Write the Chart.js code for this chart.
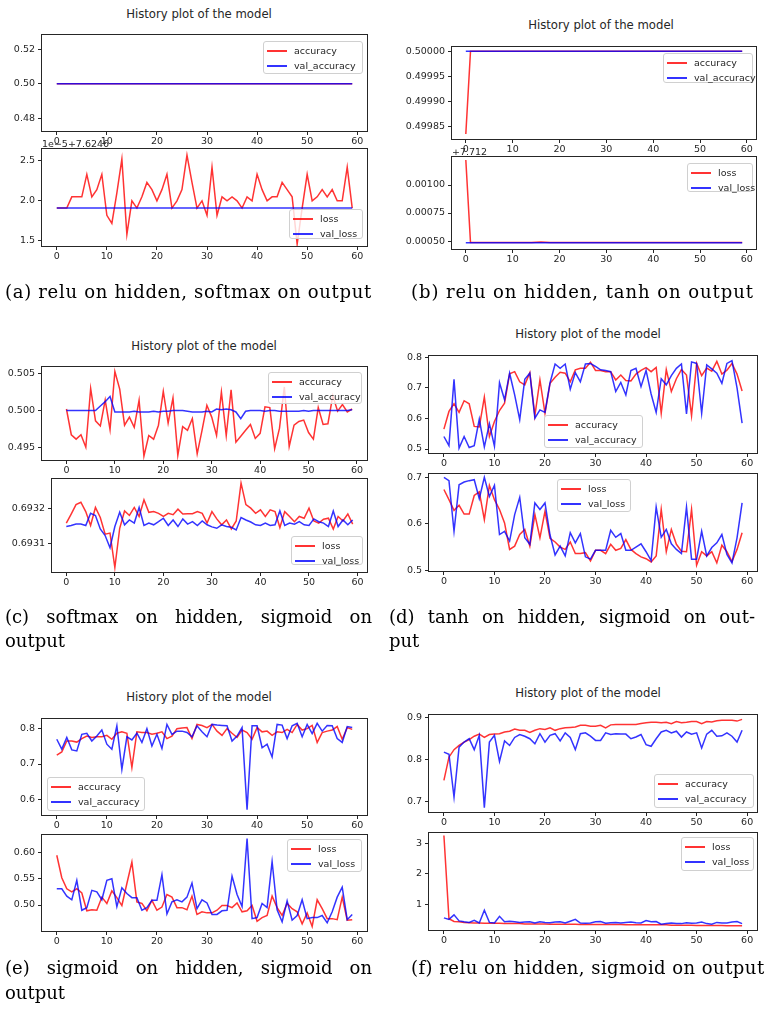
<!DOCTYPE html>
<html>
<head>
<meta charset="utf-8">
<script src="https://cdn.jsdelivr.net/npm/chart.js@4.4.0/dist/chart.umd.min.js"></script>
<style>
  body { margin: 0; background: #fff; width: 767px; height: 1013px; position: relative; overflow: hidden; font-family: "DejaVu Sans", sans-serif; }
  canvas { position: absolute; }
  .title { position: absolute; font-size: 11.7px; color: #262626; transform: translate(-50%, -50%); white-space: nowrap; }
  .off { position: absolute; font-size: 9.5px; color: #262626; white-space: nowrap; transform: translateY(-50%); }
  .leg { position: absolute; box-sizing: border-box; border: 1px solid #d0d0d0; border-radius: 3px; background: rgba(255,255,255,0.8); }
  .leg .row { position: absolute; left: 0; right: 0; height: 14px; font-size: 9.5px; color: #262626; line-height: 14px; white-space: nowrap; }
  .leg .ln { position: absolute; left: 3px; width: 20px; top: 6px; height: 1.6px; }
  .leg .tx { position: absolute; left: 30px; }
  .cap { position: absolute; font-family: "DejaVu Serif", serif; font-size: 18px; line-height: 24px; color: #000; white-space: nowrap; }
  .just { text-align: justify; text-align-last: justify; }
</style>
</head>
<body>
<script>
// epochs shown on every x axis
const xTicks = [0, 10, 20, 30, 40, 50, 60];

// (a) relu on hidden, softmax on output
const accA = [0.5,0.5,0.5,0.5,0.5,0.5,0.5,0.5,0.5,0.5,0.5,0.5,0.5,0.5,0.5,0.5,0.5,0.5,0.5,0.5,0.5,0.5,0.5,0.5,0.5,0.5,0.5,0.5,0.5,0.5,0.5,0.5,0.5,0.5,0.5,0.5,0.5,0.5,0.5,0.5,0.5,0.5,0.5,0.5,0.5,0.5,0.5,0.5,0.5,0.5,0.5,0.5,0.5,0.5,0.5,0.5,0.5,0.5,0.5,0.5];
const valAccA = [0.5,0.5,0.5,0.5,0.5,0.5,0.5,0.5,0.5,0.5,0.5,0.5,0.5,0.5,0.5,0.5,0.5,0.5,0.5,0.5,0.5,0.5,0.5,0.5,0.5,0.5,0.5,0.5,0.5,0.5,0.5,0.5,0.5,0.5,0.5,0.5,0.5,0.5,0.5,0.5,0.5,0.5,0.5,0.5,0.5,0.5,0.5,0.5,0.5,0.5,0.5,0.5,0.5,0.5,0.5,0.5,0.5,0.5,0.5,0.5];
// loss in units of 1e-5 above 7.6246
const lossA = [1.91,1.91,1.91,2.05,2.05,2.05,2.33,2.05,2.14,2.33,1.82,1.72,2.1,2.52,1.58,2.0,1.91,2.05,2.23,2.14,2.0,2.14,2.33,1.91,2.0,2.14,2.57,2.23,1.91,2.0,1.82,2.42,1.82,2.05,2.0,2.05,2.0,1.91,2.05,2.0,2.33,2.14,2.0,2.05,2.05,2.23,2.14,2.05,1.46,1.91,2.33,2.0,2.05,2.14,2.05,2.14,2.0,2.0,2.42,1.91];
const valLossA = [1.91,1.91,1.91,1.91,1.91,1.91,1.91,1.91,1.91,1.91,1.91,1.91,1.91,1.91,1.91,1.91,1.91,1.91,1.91,1.91,1.91,1.91,1.91,1.91,1.91,1.91,1.91,1.91,1.91,1.91,1.91,1.91,1.91,1.91,1.91,1.91,1.91,1.91,1.91,1.91,1.91,1.91,1.91,1.91,1.91,1.91,1.91,1.91,1.91,1.91,1.91,1.91,1.91,1.91,1.91,1.91,1.91,1.91,1.91,1.91];
const accTicksA = [0.48, 0.50, 0.52];
const lossTicksA = [1.5, 2.0, 2.5];

// (b) relu on hidden, tanh on output
const accB = [0.499834,0.5,0.5,0.5,0.5,0.5,0.5,0.5,0.5,0.5,0.5,0.5,0.5,0.5,0.5,0.5,0.5,0.5,0.5,0.5,0.5,0.5,0.5,0.5,0.5,0.5,0.5,0.5,0.5,0.5,0.5,0.5,0.5,0.5,0.5,0.5,0.5,0.5,0.5,0.5,0.5,0.5,0.5,0.5,0.5,0.5,0.5,0.5,0.5,0.5,0.5,0.5,0.5,0.5,0.5,0.5,0.5,0.5,0.5,0.5];
const valAccB = [0.5,0.5,0.5,0.5,0.5,0.5,0.5,0.5,0.5,0.5,0.5,0.5,0.5,0.5,0.5,0.5,0.5,0.5,0.5,0.5,0.5,0.5,0.5,0.5,0.5,0.5,0.5,0.5,0.5,0.5,0.5,0.5,0.5,0.5,0.5,0.5,0.5,0.5,0.5,0.5,0.5,0.5,0.5,0.5,0.5,0.5,0.5,0.5,0.5,0.5,0.5,0.5,0.5,0.5,0.5,0.5,0.5,0.5,0.5,0.5];
// loss above 7.712
const lossB = [0.001223,0.000486,0.000486,0.000486,0.000486,0.000486,0.000486,0.000486,0.000486,0.000487,0.000487,0.000486,0.000486,0.000487,0.000488,0.000490,0.000491,0.000489,0.000487,0.000486,0.000486,0.000486,0.000486,0.000486,0.000486,0.000486,0.000486,0.000486,0.000486,0.000486,0.000486,0.000486,0.000486,0.000486,0.000486,0.000486,0.000486,0.000486,0.000486,0.000486,0.000486,0.000486,0.000486,0.000486,0.000486,0.000487,0.000486,0.000486,0.000486,0.000486,0.000486,0.000486,0.000486,0.000486,0.000486,0.000486,0.000486,0.000486,0.000486,0.000486];
const valLossB = [0.000485,0.000485,0.000485,0.000485,0.000485,0.000485,0.000485,0.000485,0.000485,0.000485,0.000485,0.000485,0.000485,0.000485,0.000485,0.000485,0.000485,0.000485,0.000485,0.000485,0.000485,0.000485,0.000485,0.000485,0.000485,0.000485,0.000485,0.000485,0.000485,0.000485,0.000485,0.000485,0.000485,0.000485,0.000485,0.000485,0.000485,0.000485,0.000485,0.000485,0.000485,0.000485,0.000485,0.000485,0.000485,0.000485,0.000485,0.000485,0.000485,0.000485,0.000485,0.000485,0.000485,0.000485,0.000485,0.000485,0.000485,0.000485,0.000485,0.000485];
const accTicksB = [0.49985, 0.49990, 0.49995, 0.50000];
const lossTicksB = [0.00050, 0.00075, 0.00100];

// (c) softmax on hidden, sigmoid on output
const accC = [0.5002,0.4967,0.4961,0.4967,0.4950,0.5030,0.4986,0.4979,0.5014,0.4974,0.5053,0.5029,0.4980,0.4991,0.4977,0.5014,0.4938,0.4966,0.4961,0.4980,0.5026,0.4983,0.5017,0.4939,0.4978,0.4973,0.4989,0.4941,0.4973,0.5007,0.4991,0.4966,0.5025,0.4966,0.5028,0.4957,0.4965,0.4973,0.4981,0.4962,0.4969,0.5005,0.5004,0.4948,0.4976,0.5032,0.4951,0.4980,0.4985,0.4987,0.4970,0.4961,0.5004,0.4981,0.4982,0.5020,0.4999,0.5008,0.4998,0.5002];
const valAccC = [0.5,0.5,0.5,0.5,0.5,0.5,0.5,0.5006,0.5012,0.5019,0.4998,0.4998,0.4998,0.4998,0.4999,0.4998,0.4998,0.4998,0.4999,0.4998,0.4999,0.4999,0.5,0.5,0.5,0.4999,0.4998,0.4998,0.4998,0.4999,0.4998,0.5002,0.5001,0.5002,0.5001,0.4998,0.4989,0.4999,0.5,0.5,0.5,0.4999,0.5,0.5,0.4999,0.4999,0.4999,0.4999,0.4999,0.5,0.4999,0.5,0.5,0.5,0.5,0.5,0.5,0.5,0.5,0.5001];
const lossC = [0.693159,0.693185,0.693212,0.693219,0.693192,0.693152,0.693204,0.693175,0.693127,0.69313,0.693031,0.693144,0.693194,0.693181,0.693204,0.693178,0.693226,0.69319,0.693192,0.693187,0.693178,0.693187,0.693183,0.693199,0.693185,0.693186,0.693186,0.693192,0.693187,0.693159,0.693192,0.693171,0.693154,0.693168,0.693142,0.693165,0.693274,0.693212,0.693202,0.693187,0.693197,0.693178,0.693197,0.693192,0.693146,0.693192,0.693178,0.693163,0.693178,0.693173,0.693202,0.693165,0.693159,0.69317,0.693173,0.693142,0.693178,0.693165,0.693185,0.693156];
const valLossC = [0.693149,0.693152,0.693156,0.693156,0.693152,0.693187,0.693181,0.693142,0.693123,0.693088,0.693149,0.69319,0.693154,0.693168,0.693159,0.693204,0.693152,0.693159,0.693154,0.693163,0.693173,0.693152,0.693168,0.693149,0.693171,0.693156,0.693163,0.693152,0.693165,0.693154,0.693148,0.693144,0.693154,0.693149,0.693147,0.693139,0.693175,0.693168,0.693162,0.693154,0.693152,0.693159,0.693152,0.693154,0.693194,0.693152,0.693159,0.693156,0.693163,0.693154,0.693152,0.693171,0.693163,0.693159,0.693149,0.693194,0.693149,0.693168,0.693154,0.693168];
const accTicksC = [0.495, 0.500, 0.505];
const lossTicksC = [0.6931, 0.6932];

// (d) tanh on hidden, sigmoid on output
const accD = [0.565,0.623,0.648,0.62,0.658,0.648,0.574,0.572,0.67,0.541,0.59,0.626,0.65,0.746,0.753,0.72,0.71,0.75,0.609,0.726,0.617,0.715,0.735,0.751,0.748,0.72,0.759,0.764,0.764,0.784,0.757,0.757,0.753,0.753,0.726,0.742,0.724,0.723,0.745,0.757,0.766,0.753,0.767,0.617,0.76,0.688,0.73,0.76,0.742,0.609,0.78,0.74,0.765,0.755,0.787,0.745,0.758,0.78,0.745,0.69];
const valAccD = [0.541,0.511,0.728,0.503,0.541,0.505,0.511,0.598,0.507,0.583,0.509,0.717,0.661,0.748,0.677,0.596,0.728,0.748,0.601,0.628,0.62,0.717,0.778,0.764,0.778,0.696,0.75,0.72,0.778,0.78,0.77,0.759,0.757,0.753,0.688,0.718,0.677,0.757,0.764,0.704,0.757,0.68,0.62,0.73,0.71,0.74,0.764,0.778,0.615,0.785,0.78,0.617,0.775,0.762,0.748,0.715,0.78,0.789,0.70,0.585];
const lossD = [0.674,0.652,0.629,0.64,0.621,0.621,0.661,0.669,0.609,0.683,0.652,0.631,0.602,0.545,0.552,0.577,0.588,0.552,0.62,0.57,0.627,0.569,0.561,0.55,0.545,0.561,0.536,0.536,0.538,0.52,0.543,0.543,0.536,0.556,0.543,0.547,0.566,0.545,0.536,0.529,0.525,0.518,0.531,0.631,0.54,0.588,0.556,0.541,0.54,0.631,0.511,0.54,0.531,0.54,0.516,0.554,0.54,0.519,0.545,0.581];
const valLossD = [0.7,0.693,0.584,0.684,0.69,0.693,0.695,0.654,0.7,0.659,0.683,0.577,0.584,0.563,0.62,0.657,0.57,0.556,0.645,0.631,0.645,0.576,0.533,0.552,0.531,0.581,0.559,0.579,0.529,0.524,0.543,0.543,0.543,0.586,0.571,0.579,0.543,0.543,0.55,0.557,0.54,0.521,0.636,0.571,0.588,0.557,0.545,0.536,0.636,0.524,0.524,0.584,0.531,0.549,0.559,0.577,0.534,0.516,0.57,0.645];
const accTicksD = [0.5, 0.6, 0.7, 0.8];
const lossTicksD = [0.5, 0.6, 0.7];

// (e) sigmoid on hidden, sigmoid on output
const accE = [0.725,0.734,0.765,0.765,0.762,0.772,0.779,0.775,0.777,0.777,0.781,0.77,0.787,0.791,0.787,0.69,0.791,0.789,0.789,0.784,0.787,0.791,0.772,0.779,0.8,0.802,0.803,0.772,0.812,0.809,0.803,0.812,0.793,0.781,0.8,0.787,0.775,0.796,0.789,0.77,0.803,0.791,0.793,0.781,0.791,0.789,0.798,0.789,0.812,0.796,0.8,0.809,0.761,0.789,0.793,0.796,0.806,0.77,0.803,0.798];
const valAccE = [0.77,0.742,0.775,0.74,0.737,0.784,0.787,0.765,0.779,0.796,0.756,0.742,0.808,0.685,0.777,0.768,0.787,0.761,0.8,0.751,0.784,0.744,0.812,0.784,0.793,0.793,0.789,0.777,0.808,0.791,0.777,0.812,0.81,0.809,0.808,0.765,0.779,0.803,0.571,0.808,0.808,0.746,0.756,0.72,0.812,0.81,0.772,0.808,0.815,0.777,0.812,0.786,0.815,0.793,0.809,0.808,0.772,0.761,0.806,0.803];
const lossE = [0.595,0.552,0.531,0.525,0.531,0.523,0.489,0.491,0.49,0.515,0.503,0.527,0.514,0.499,0.541,0.582,0.506,0.503,0.489,0.509,0.49,0.496,0.52,0.515,0.495,0.495,0.491,0.517,0.482,0.487,0.485,0.485,0.49,0.499,0.499,0.495,0.504,0.487,0.489,0.499,0.469,0.476,0.48,0.517,0.495,0.48,0.503,0.493,0.487,0.464,0.485,0.459,0.51,0.493,0.474,0.474,0.472,0.515,0.471,0.472];
const valLossE = [0.531,0.531,0.517,0.51,0.547,0.49,0.495,0.528,0.525,0.51,0.547,0.55,0.497,0.533,0.522,0.514,0.514,0.49,0.495,0.509,0.509,0.558,0.483,0.506,0.51,0.506,0.515,0.542,0.493,0.51,0.504,0.482,0.482,0.489,0.49,0.555,0.52,0.497,0.627,0.474,0.476,0.503,0.495,0.583,0.491,0.468,0.508,0.471,0.48,0.51,0.474,0.476,0.476,0.48,0.466,0.487,0.515,0.534,0.472,0.482];
const accTicksE = [0.6, 0.7, 0.8];
const lossTicksE = [0.50, 0.55, 0.60];

// (f) relu on hidden, sigmoid on output
const accF = [0.75,0.805,0.823,0.833,0.841,0.847,0.855,0.86,0.852,0.859,0.86,0.861,0.865,0.867,0.872,0.869,0.869,0.864,0.869,0.873,0.871,0.875,0.869,0.873,0.875,0.876,0.877,0.881,0.881,0.879,0.879,0.881,0.875,0.882,0.883,0.883,0.883,0.883,0.883,0.885,0.887,0.888,0.888,0.887,0.888,0.885,0.89,0.887,0.888,0.89,0.89,0.885,0.89,0.889,0.892,0.893,0.893,0.893,0.891,0.895];
const valAccF = [0.817,0.812,0.71,0.829,0.841,0.849,0.823,0.857,0.685,0.841,0.857,0.795,0.844,0.833,0.852,0.859,0.855,0.849,0.837,0.861,0.841,0.857,0.861,0.844,0.863,0.852,0.823,0.861,0.863,0.855,0.845,0.845,0.863,0.859,0.861,0.86,0.86,0.849,0.853,0.859,0.835,0.831,0.849,0.865,0.869,0.863,0.867,0.853,0.865,0.86,0.863,0.827,0.86,0.869,0.855,0.856,0.863,0.855,0.841,0.869];
const lossF = [3.27,0.52,0.43,0.42,0.4,0.39,0.38,0.38,0.37,0.37,0.37,0.37,0.36,0.36,0.36,0.36,0.35,0.35,0.35,0.35,0.35,0.34,0.34,0.34,0.34,0.34,0.34,0.33,0.33,0.33,0.33,0.33,0.33,0.33,0.33,0.33,0.32,0.32,0.32,0.32,0.32,0.32,0.32,0.32,0.32,0.31,0.31,0.31,0.31,0.31,0.3,0.3,0.3,0.3,0.3,0.3,0.29,0.29,0.29,0.29];
const valLossF = [0.55,0.5,0.65,0.45,0.42,0.4,0.47,0.38,0.8,0.4,0.38,0.6,0.42,0.44,0.42,0.4,0.41,0.42,0.38,0.42,0.4,0.39,0.41,0.42,0.38,0.44,0.5,0.38,0.37,0.38,0.42,0.43,0.37,0.39,0.4,0.38,0.4,0.41,0.39,0.38,0.46,0.42,0.43,0.34,0.36,0.38,0.36,0.36,0.39,0.37,0.38,0.41,0.36,0.34,0.4,0.38,0.38,0.41,0.43,0.36];
const accTicksF = [0.7, 0.8, 0.9];
const lossTicksF = [1, 2, 3];

const RED = 'rgba(255,0,0,0.8)';
const BLUE = 'rgba(0,0,255,0.8)';
const INK = '#262626';
const Y_W = 56, X_H = 20, PAD_L = 4, PAD_T = 10, PAD_R = 12, PAD_B = 2;

// full box around the axes, like matplotlib spines
const frame = {
  id: 'frame',
  afterDraw(chart) {
    const { ctx, chartArea: a } = chart;
    ctx.save();
    ctx.strokeStyle = INK;
    ctx.lineWidth = 1;
    ctx.strokeRect(a.left - 0.5, a.top - 0.5, a.right - a.left + 1, a.bottom - a.top + 1);
    ctx.restore();
  }
};

function addDiv(cls, x, y, html) {
  const d = document.createElement('div');
  d.className = cls;
  d.style.left = x + 'px';
  d.style.top = y + 'px';
  d.innerHTML = html;
  document.body.appendChild(d);
  return d;
}

function legend(x0, y0, x1, y1, labels) {
  const d = addDiv('leg', x0, y0, '');
  d.style.width = (x1 - x0) + 'px';
  d.style.height = (y1 - y0) + 'px';
  labels.forEach((lab, i) => {
    const r = document.createElement('div');
    r.className = 'row';
    r.style.top = (2 + i * 15) + 'px';
    r.innerHTML = '<div class="ln" style="background:' + (i === 0 ? RED : BLUE) + '"></div><span class="tx">' + lab + '</span>';
    d.appendChild(r);
  });
}

// box = [left, top, right, bottom] of the axes in page pixels
function plot(box, yMin, yMax, yTicks, digits, red, blue, xMin, xMax) {
  const w = box[2] - box[0], h = box[3] - box[1];
  const cv = document.createElement('canvas');
  cv.width = w + PAD_L + Y_W + PAD_R;
  cv.height = h + PAD_T + X_H + PAD_B;
  cv.style.left = (box[0] - PAD_L - Y_W) + 'px';
  cv.style.top = (box[1] - PAD_T) + 'px';
  document.body.appendChild(cv);

  const toPts = arr => arr.map((v, i) => ({ x: i, y: v }));
  const tickFont = { family: 'DejaVu Sans', size: 9.5 };

  return new Chart(cv, {
    type: 'line',
    data: {
      datasets: [
        { data: toPts(red), borderColor: RED, borderWidth: 1.5, pointRadius: 0, tension: 0, order: 1 },
        { data: toPts(blue), borderColor: BLUE, borderWidth: 1.5, pointRadius: 0, tension: 0, order: 0 }
      ]
    },
    options: {
      responsive: false,
      animation: false,
      devicePixelRatio: 1,
      layout: { padding: { left: PAD_L, top: PAD_T, right: PAD_R, bottom: PAD_B } },
      plugins: { legend: { display: false }, tooltip: { enabled: false } },
      scales: {
        x: {
          type: 'linear',
          min: xMin === undefined ? -2.95 : xMin,
          max: xMax === undefined ? 61.95 : xMax,
          afterBuildTicks: s => { s.ticks = xTicks.map(v => ({ value: v })); },
          afterFit: s => { s.height = X_H; },
          grid: { drawOnChartArea: false, drawTicks: true, tickLength: 4, color: INK },
          border: { display: false },
          ticks: { font: tickFont, color: INK, padding: 1, autoSkip: false, maxRotation: 0, callback: v => String(v) }
        },
        y: {
          type: 'linear',
          min: yMin,
          max: yMax,
          afterBuildTicks: s => { s.ticks = yTicks.map(v => ({ value: v })); },
          afterFit: s => { s.width = Y_W; },
          grid: { drawOnChartArea: false, drawTicks: true, tickLength: 4, color: INK },
          border: { display: false },
          ticks: { font: tickFont, color: INK, padding: 3, autoSkip: false, callback: v => Number(v).toFixed(digits) }
        }
      }
    },
    plugins: [frame]
  });
}

// (a)
addDiv('title', 199, 14, 'History plot of the model');
plot([42, 35, 367, 131], 0.4725, 0.5283, accTicksA, 2, accA, valAccA);
plot([42, 149, 367, 246], 1.4375, 2.646, lossTicksA, 1, lossA, valLossA);
addDiv('off', 42, 143, '1e\u22125+7.6246');
legend(263, 41, 363, 74, ['accuracy', 'val_accuracy']);
legend(289, 209, 363, 239, ['loss', 'val_loss']);

// (b)
addDiv('title', 601, 25, 'History plot of the model');
plot([452, 47, 756, 139], 0.499824, 0.5000086, accTicksB, 5, accB, valAccB);
plot([452, 157, 756, 249], 0.000429, 0.00125, lossTicksB, 5, lossB, valLossB);
addDiv('off', 452, 151, '+7.712');
legend(663, 53, 753, 83, ['accuracy', 'val_accuracy']);
legend(687, 163, 753, 192, ['loss', 'val_loss']);

// (c)
addDiv('title', 204, 346, 'History plot of the model');
plot([42, 367, 367, 460], 0.49327, 0.50591, accTicksC, 3, accC, valAccC, -5.05, 62.07);
plot([52, 479, 367, 572], 0.693018, 0.693286, lossTicksC, 4, lossC, valLossC);
legend(268, 372, 362, 404, ['accuracy', 'val_accuracy']);
legend(291, 536, 363, 565, ['loss', 'val_loss']);

// (d)
addDiv('title', 588, 334, 'History plot of the model');
plot([429, 356, 757, 453], 0.487, 0.8043, accTicksD, 1, accD, valAccD);
plot([429, 474, 757, 571], 0.4985, 0.7073, lossTicksD, 1, lossD, valLossD);
legend(544, 415, 643, 448, ['accuracy', 'val_accuracy']);
legend(557, 479, 631, 512, ['loss', 'val_loss']);

// (e)
addDiv('title', 199, 697, 'History plot of the model');
plot([42, 719, 367, 815], 0.5558, 0.8273, accTicksE, 1, accE, valAccE);
plot([42, 835, 367, 931], 0.4504, 0.6336, lossTicksE, 2, lossE, valLossE);
legend(47, 777, 145, 811, ['accuracy', 'val_accuracy']);
legend(287, 839, 362, 872, ['loss', 'val_loss']);

// (f)
addDiv('title', 588, 693, 'History plot of the model');
plot([429, 715, 757, 812], 0.6745, 0.9055, accTicksF, 1, accF, valAccF);
plot([429, 833, 757, 930], 0.149, 3.354, lossTicksF, 0, lossF, valLossF);
legend(654, 774, 754, 808, ['accuracy', 'val_accuracy']);
legend(681, 837, 754, 871, ['loss', 'val_loss']);

// captions; single lines are stretched to the width they take in the reference
function cap(x, y, w, text, justify) {
  const d = addDiv('cap' + (justify ? ' just' : ''), x, y - 12, text);
  if (w) d.style.width = w + 'px';
  return d;
}
function fitCap(y, x0, x1, text) {
  const d = cap(x0, y, 0, text);
  const gap = (x1 - x0) - d.offsetWidth;
  d.style.letterSpacing = (gap / text.length) + 'px';
}
fitCap(292, 5, 372, '(a) relu on hidden, softmax on output');
fitCap(292, 411, 754, '(b) relu on hidden, tanh on output');
cap(5, 617, 367, '(c) softmax on hidden, sigmoid on', true);
cap(5, 641, 0, 'output');
cap(389, 617, 366, '(d) tanh on hidden, sigmoid on out-', true);
cap(389, 641, 0, 'put');
cap(5, 968, 367, '(e) sigmoid on hidden, sigmoid on', true);
cap(5, 993, 0, 'output');
fitCap(968, 411, 765, '(f) relu on hidden, sigmoid on output');
</script>
</body>
</html>
